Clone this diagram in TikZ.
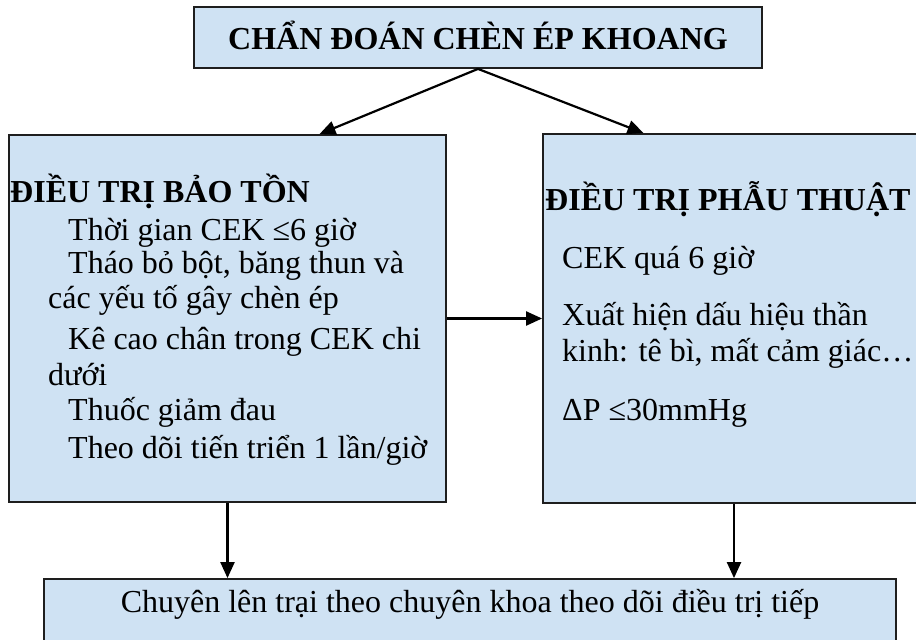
\documentclass[tikz,border=0pt]{standalone}
\usepackage{fontspec}
\setmainfont{Liberation Serif}
\usetikzlibrary{arrows.meta}
\definecolor{boxfill}{RGB}{207,226,243}
\definecolor{boxline}{RGB}{30,30,30}
\begin{document}
\begin{tikzpicture}[x=1pt,y=-1pt,
  panel/.style={draw=boxline,line width=1.8pt,fill=boxfill,inner sep=0pt},
  link/.style={draw=black,line width=2.2pt,-{Triangle[length=16pt,width=14pt]}},
  txt/.style={inner sep=0pt,anchor=base west,font=\fontsize{32}{36}\selectfont},
  hd/.style={txt,font=\fontsize{32}{36}\selectfont\bfseries}]
\useasboundingbox (0,0) rectangle (916,640);
\clip (0,0) rectangle (916,640);

% boxes
\node[panel,minimum width=568pt,minimum height=61pt] (diag) at (478,37.5) {};
\node[inner sep=0pt,anchor=base,font=\fontsize{32}{36}\selectfont\bfseries] (diagtxt) at (478,49) {CHẨN ĐOÁN CHÈN ÉP KHOANG};
\node[panel,minimum width=437pt,minimum height=367pt] (cons) at (227.5,318.5) {};
\node[panel,minimum width=397pt,minimum height=369pt] (surg) at (741.5,318.5) {};
\node[panel,minimum width=852pt,minimum height=81pt] (final) at (470,619.5) {};

% conservative treatment
\node[hd]  (c0) at (10,202) {ĐIỀU TRỊ BẢO TỒN};
\node[txt] (c1) at (68,240) {Thời gian CEK ≤6 giờ};
\node[txt] (c2) at (68,273) {Tháo bỏ bột, băng thun và};
\node[txt] (c3) at (48,308) {các yếu tố gây chèn ép};
\node[txt] (c4) at (68,349) {Kê cao chân trong CEK chi};
\node[txt] (c5) at (48,385) {dưới};
\node[txt] (c6) at (68,420) {Thuốc giảm đau};
\node[txt] (c7) at (68,458) {Theo dõi tiến triển 1 lần/giờ};

% surgical treatment
\node[hd]  (s0) at (545,210) {ĐIỀU TRỊ PHẪU THUẬT};
\node[txt] (s1) at (562,268) {CEK quá 6 giờ};
\node[txt] (s2) at (562,325) {Xuất hiện dấu hiệu thần};
\node[txt] (s3) at (562,361) {kinh: tê bì, mất cảm giác…};
\node[txt] (s4) at (562,420) {ΔP ≤30mmHg};

% final step
\node[inner sep=0pt,anchor=base,font=\fontsize{32}{36}\selectfont] (ftxt) at (470,612) {Chuyên lên trại theo chuyên khoa theo dõi điều trị tiếp};

% connectors
\draw[link] (diag.south) -- ([xshift=92pt]cons.north);
\draw[link] (diag.south) -- ([xshift=-98pt]surg.north);
\draw[link] (cons.east) -- (surg.west);
\draw[link] (cons.south) -- (cons.south |- final.north);
\draw[link] ([xshift=-7.5pt]surg.south) -- ([xshift=-7.5pt]surg.south |- final.north);
\end{tikzpicture}
\end{document}
